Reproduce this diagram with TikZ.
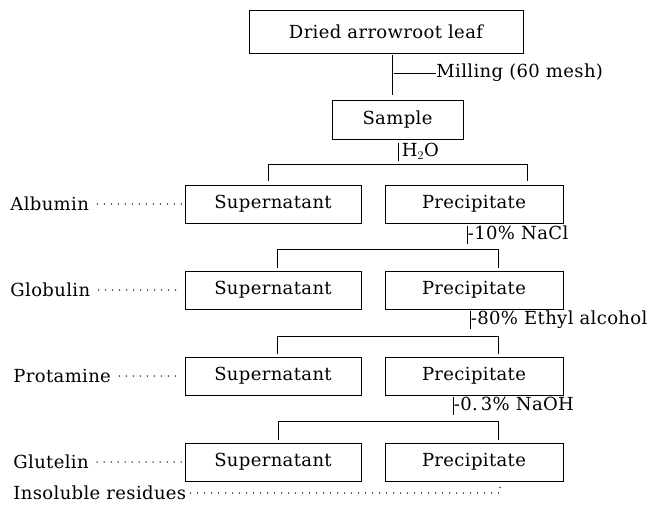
\documentclass[tikz,border=0pt]{standalone}
\usepackage{fontspec}
\newfontfamily\flowface{DejaVu Serif}[LetterSpace=2]
\newcommand{\flowfont}{\flowface\fontsize{18}{21}\selectfont}

\begin{document}
\begin{tikzpicture}[x=1pt,y=-1pt,line width=0.9pt,
  stage/.style={draw,inner sep=0pt,minimum width=176pt,minimum height=38pt,font=\flowfont},
  note/.style={anchor=west,inner xsep=0.5pt,inner ysep=1pt,text height=12pt,text depth=3pt,font=\flowfont},
  lab/.style={anchor=west,inner sep=0pt,font=\flowfont},
  leader/.style={line width=1.5pt,line cap=round,dash pattern=on 0pt off 7pt}]
\useasboundingbox (0,0) rectangle (667,504);

% leaf and sample
\node[stage,minimum width=274pt,minimum height=43pt] (leaf) at (386,31.5) {Dried arrowroot leaf};
\node[stage,minimum width=131pt,minimum height=39pt] (sample) at (397.5,119.5) {Sample};
\coordinate (mill) at (392,73);
\node[lab] (milling) at (436,73) {Milling (60 mesh)};
\draw[shorten <=2pt,shorten >=5pt] (leaf.south -| mill) -- (sample.north -| mill);
\draw[shorten <=2pt] (mill) -- (milling.west);

% fractions
\node[stage] (sup1) at (273,204) {Supernatant};
\node[stage,minimum width=178pt] (pre1) at (474,204) {Precipitate};
\node[stage] (sup2) at (273,290) {Supernatant};
\node[stage,minimum width=178pt] (pre2) at (474,290) {Precipitate};
\node[stage] (sup3) at (273,376) {Supernatant};
\node[stage,minimum width=178pt] (pre3) at (474,376) {Precipitate};
\node[stage] (sup4) at (273,462) {Supernatant};
\node[stage,minimum width=178pt] (pre4) at (474,462) {Precipitate};

% solvents
\node[note] (water) at (398,152) {\,H$_2$O};
\node[note] (nacl) at (467,235) {-10\% NaCl};
\node[note] (etoh) at (470,320) {-80\% Ethyl alcohol};
\node[note] (naoh) at (453,406) {-0.\,3\% NaOH};
\draw (water.north west) -- (water.south west);
\draw (nacl.north west) -- (nacl.south west);
\draw (etoh.north west) -- (etoh.south west);
\draw (naoh.north west) -- (naoh.south west);

% splits
\coordinate (s0l) at (268,164);
\coordinate (s0r) at (527,164);
\draw (s0l) -- (s0r);
\draw[shorten >=4pt] (s0l) -- (s0l |- sup1.north);
\draw[shorten >=4pt] (s0r) -- (s0r |- pre1.north);

\coordinate (s1l) at (277,249);
\coordinate (s1r) at (498,249);
\draw (s1l) -- (s1r);
\draw[shorten >=3pt] (s1l) -- (s1l |- sup2.north);
\draw[shorten >=3pt] (s1r) -- (s1r |- pre2.north);

\coordinate (s2l) at (277,336);
\coordinate (s2r) at (498,336);
\draw (s2l) -- (s2r);
\draw[shorten >=3pt] (s2l) -- (s2l |- sup3.north);
\draw[shorten >=3pt] (s2r) -- (s2r |- pre3.north);

\coordinate (s3l) at (278,421);
\coordinate (s3r) at (498,421);
\draw (s3l) -- (s3r);
\draw[shorten >=3pt] (s3l) -- (s3l |- sup4.north);
\draw[shorten >=3pt] (s3r) -- (s3r |- pre4.north);

% protein classes
\node[lab] (albumin) at (10,204) {Albumin};
\node[lab] (globulin) at (10,290) {Globulin};
\node[lab] (protamine) at (13,376) {Protamine};
\node[lab] (glutelin) at (13,462) {Glutelin};
\node[lab] (resid) at (13,493) {Insoluble residues};
\coordinate (residend) at (500,493);

\draw[leader,shorten <=8pt,shorten >=3pt] (albumin.east) -- (sup1.west);
\draw[leader,shorten <=8pt,shorten >=3pt] (globulin.east) -- (sup2.west);
\draw[leader,shorten <=8pt,shorten >=3pt] (protamine.east) -- (sup3.west);
\draw[leader,shorten <=8pt,shorten >=3pt] (glutelin.east) -- (sup4.west);
\draw[leader,shorten <=4pt,shorten >=3pt] (resid.east) -- (residend) -- (pre4.south -| residend);
\end{tikzpicture}
\end{document}
